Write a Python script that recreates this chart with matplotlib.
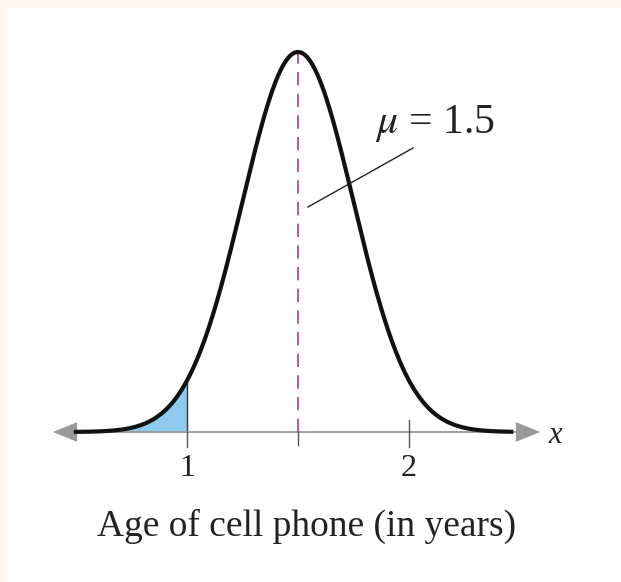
import numpy as np
import matplotlib
matplotlib.use("Agg")
import matplotlib.pyplot as plt
from matplotlib.patches import Rectangle, FancyArrowPatch

# Distribution of cell phone age
mu = 1.5
sigma = 0.25
curve_range = [0.49, 2.47]
shade_upper = 1.0
tick_values = [1, 2]
tick_labels = ["1", "2"]
mean_label = r"$\mu$ = 1.5"
xlabel = "Age of cell phone (in years)"

W, H = 621, 582
fig = plt.figure(figsize=(W / 100, H / 100), dpi=100)
fig.patch.set_facecolor("#fdf7ef")
# white panel
fig.add_artist(Rectangle((5 / W, 0), 1 - 5 / W, (H - 8) / H,
                         transform=fig.transFigure, facecolor="white",
                         edgecolor="none", zorder=0))

ax = fig.add_axes([0, 0, 1, 1])
ax.set_facecolor("none")
ax.axis("off")

px_per_x = 222.0
x_at_1 = 187.0
ax.set_xlim(1 - x_at_1 / px_per_x, 1 + (W - x_at_1) / px_per_x)
peak = 1 / (sigma * np.sqrt(2 * np.pi))
py_per_y = (432 - 52) / peak
ax.set_ylim(-(H - 432) / py_per_y, 432 / py_per_y)

px = 1 / px_per_x
dy = 1 / py_per_y


def X(p):
    return 1 + (p - x_at_1) * px


def Y(p):
    return (432 - p) * dy


def pdf(x):
    return np.exp(-0.5 * ((x - mu) / sigma) ** 2) / (sigma * np.sqrt(2 * np.pi))


xs = np.linspace(curve_range[0], curve_range[1], 600)
ys = pdf(xs)

# shaded left tail
xf = xs[xs <= shade_upper]
xf = np.append(xf, shade_upper)
ax.fill_between(xf, 0, pdf(xf), color="#8ecbee", lw=0, zorder=1)
ax.plot([shade_upper, shade_upper], [0, pdf(shade_upper)], color="#333333",
        lw=1.0, zorder=2)

# horizontal axis with arrows
axis_grey = "#999999"
left_tip = X(53)
right_tip = X(540)
ax.plot([left_tip + 10 * px, right_tip - 10 * px], [0, 0], color=axis_grey,
        lw=1.3, zorder=2, solid_capstyle="butt")
for start, end in [(left_tip + 22 * px, left_tip), (right_tip - 22 * px, right_tip)]:
    ax.add_patch(FancyArrowPatch((start, 0), (end, 0),
                                 arrowstyle="-|>,head_length=11,head_width=4.5",
                                 mutation_scale=1.5, color=axis_grey, lw=0.5,
                                 zorder=3, shrinkA=0, shrinkB=0))

# tick marks
ax.plot([1, 1], [-15 * dy, 0], color="#555555", lw=1.0, zorder=2)
ax.plot([2, 2], [-15 * dy, 12 * dy], color="#555555", lw=1.0, zorder=2)
ax.plot([mu, mu], [-13 * dy, 0], color="#555555", lw=1.0, zorder=2)

# mean line
ax.plot([mu, mu], [0, peak], color="#b03a8a", lw=1.2, zorder=2,
        dashes=(8, 5))

# normal curve
ax.plot(xs, ys, color="#111111", lw=3.0, zorder=4, solid_capstyle="butt")

serif = ["Liberation Serif", "DejaVu Serif"]
text_color = "#222222"
for v, lab in zip(tick_values, tick_labels):
    ax.text(v, Y(476), lab, ha="center", va="baseline", fontsize=23,
            family=serif, color=text_color)
ax.text(X(555), Y(443), "x", ha="center", va="baseline",
        fontsize=22, family=serif, style="italic", color=text_color)

# mean annotation
ax.text(X(375), Y(133), mean_label, ha="left", va="baseline",
        fontsize=30, family=serif, color=text_color,
        math_fontfamily="stix")
ax.plot([X(308), X(413)], [Y(207), Y(148)], color=text_color, lw=1.0, zorder=3)

ax.text(X(307), Y(536), xlabel, ha="center", va="baseline",
        fontsize=27, family=serif, color=text_color)

fig.savefig("out.png", dpi=100, facecolor=fig.get_facecolor())
